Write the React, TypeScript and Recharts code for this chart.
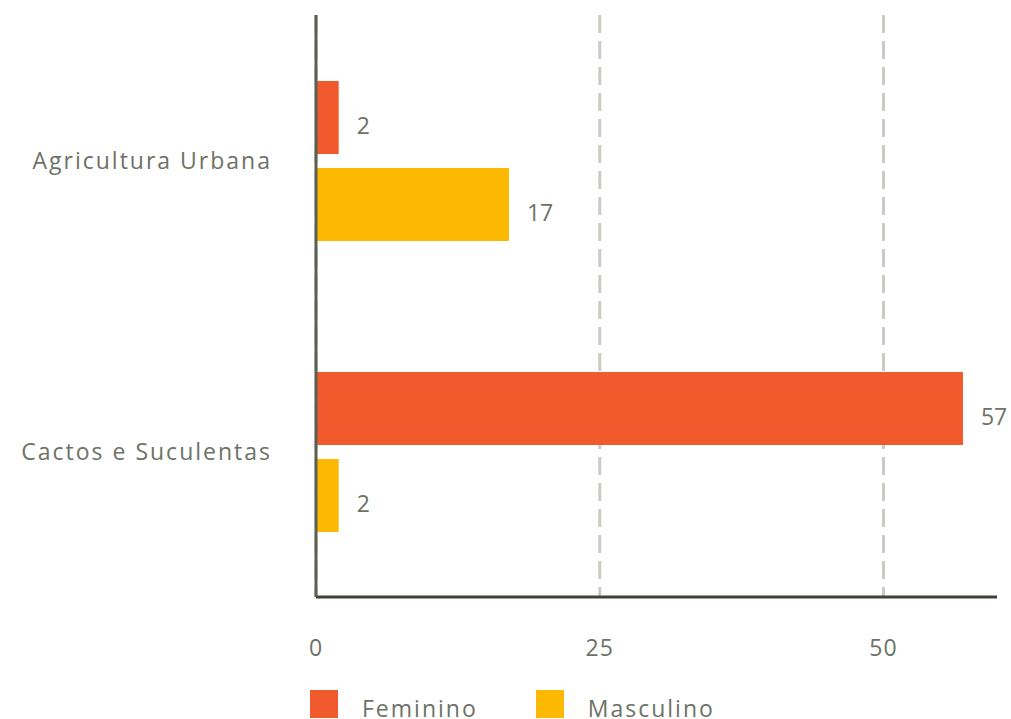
import { BarChart, Bar, XAxis, YAxis, CartesianGrid, Legend, LabelList } from "recharts";

const categories = ["Agricultura Urbana", "Cactos e Suculentas"];
const feminino = [2, 57];
const masculino = [17, 2];
const xTicks = [0, 25, 50];

const seriesNames = ["Feminino", "Masculino"];
const seriesColors = ["#f05a2c", "#fdb902"];

const data = categories.map((name, i) => ({
  name,
  Feminino: feminino[i],
  Masculino: masculino[i],
}));

const textColor = "#6d7266";
const font = "'Open Sans', sans-serif";

const LegendBox = () => (
  <div style={{ display: "flex", height: 40, paddingLeft: 310, fontFamily: font }}>
    {seriesNames.map((s, i) => (
      <div key={s} style={{ display: "flex", alignItems: "flex-start", marginRight: i === 0 ? 58 : 0 }}>
        <div style={{ width: 28, height: 28, background: seriesColors[i] }} />
        <span style={{ marginLeft: 24, fontSize: 23, color: textColor, letterSpacing: 2, lineHeight: "40px", marginTop: -2 }}>{s}</span>
      </div>
    ))}
  </div>
);

const App = () => {
  return (
    <div style={{ position: "fixed", left: 0, top: 0, width: 1011, height: 719, overflow: "hidden", background: "#fff" }}>
      <BarChart
        width={1011}
        height={740}
        data={data}
        layout="vertical"
        margin={{ top: 15, right: 14, left: 0, bottom: 10 }}
        barSize={73}
        barGap={14}
      >
        <CartesianGrid
          horizontal={false}
          syncWithTicks
          stroke="#c9cbc4"
          strokeWidth={3}
          strokeDasharray="18 8"
        />
        <XAxis
          type="number"
          domain={[0, 60]}
          ticks={xTicks}
          height={93}
          tickLine={false}
          tickSize={0}
          tickMargin={43}
          axisLine={{ stroke: "#3b4435", strokeWidth: 3 }}
          tick={{ fill: textColor, fontSize: 23, fontFamily: font, letterSpacing: 1 }}
        />
        <YAxis
          type="category"
          dataKey="name"
          width={316}
          tickLine={false}
          tickSize={0}
          tickMargin={44}
          axisLine={{ stroke: "#596050", strokeWidth: 3 }}
          tick={{ fill: textColor, fontSize: 23, fontFamily: font, letterSpacing: 2 }}
        />
        <Legend verticalAlign="bottom" align="left" content={() => <LegendBox />} />
        {seriesNames.map((s, i) => (
          <Bar key={s} dataKey={s} fill={seriesColors[i]} isAnimationActive={false}>
            <LabelList dataKey={s} position="right" offset={18} dy={8} fill={textColor} fontSize={23} fontFamily={font} />
          </Bar>
        ))}
      </BarChart>
    </div>
  );
};

export default App;
